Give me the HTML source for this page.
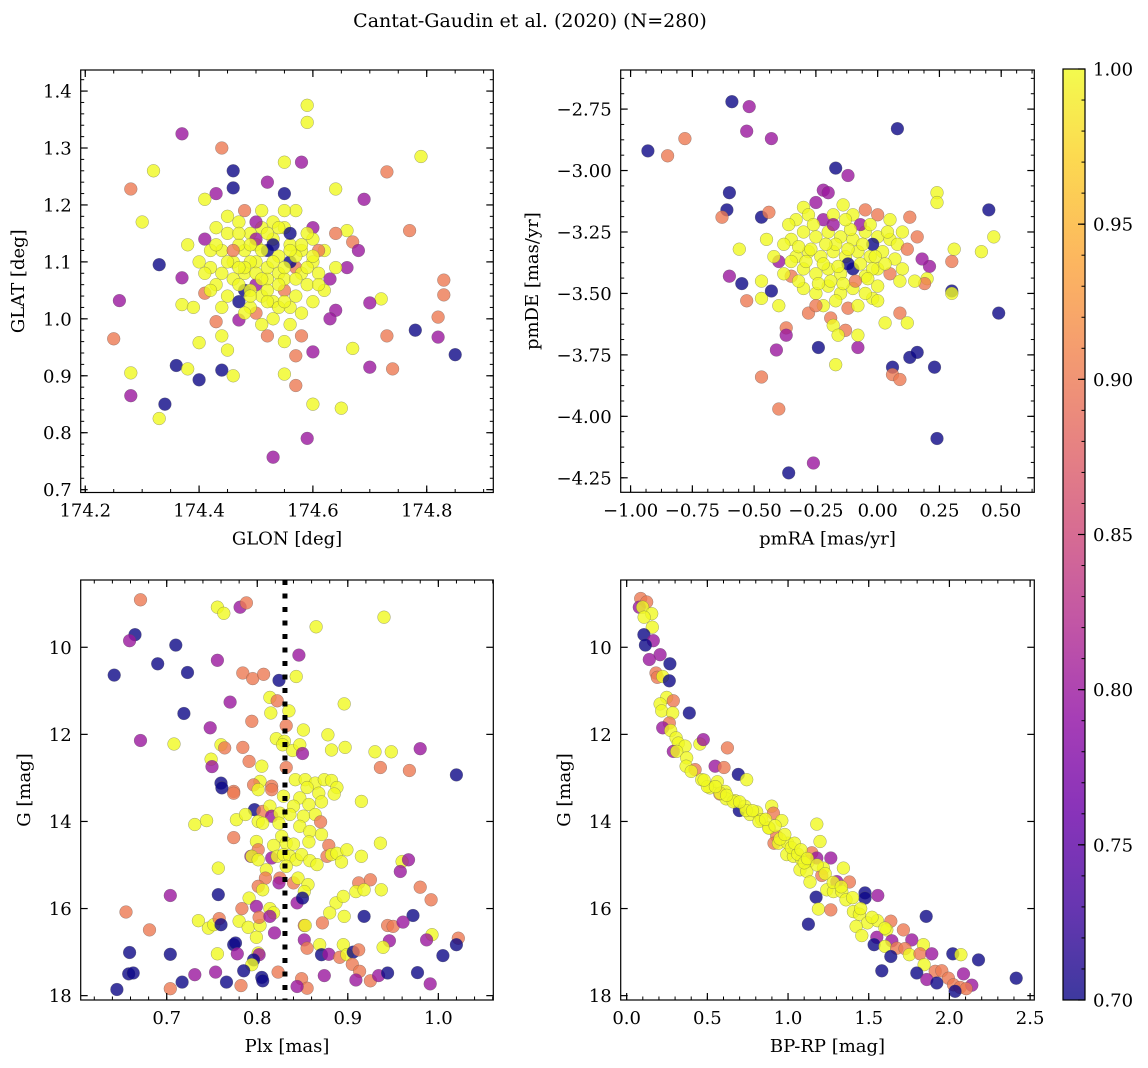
<!DOCTYPE html>
<html><head><meta charset="utf-8">
<style>
html,body{margin:0;padding:0;background:#fff;}
svg{display:block;font-family:"DejaVu Serif","Liberation Serif",serif;}
</style></head>
<body>
<svg id="fig" width="1148" height="1068" viewBox="0 0 1148 1068" xmlns="http://www.w3.org/2000/svg">
<text x="530" y="27" font-size="19" text-anchor="middle">Cantat-Gaudin et al. (2020) (N=280)</text>
</svg>
<script>
// ---- Panel 1: GLON vs GLAT ----
const glon = [174.37,174.44,174.59,174.59,174.79,174.32,174.28,174.46,174.55,174.58,
174.73,174.52,174.46,174.43,174.55,174.41,174.69,174.64,174.30,174.77,
174.66,174.33,174.38,174.26,174.25,174.28,174.28,174.36,174.38,174.34,
174.33,174.40,174.44,174.40,174.45,174.46,174.53,174.59,174.60,174.65,
174.57,174.55,174.57,174.60,174.67,174.70,174.74,174.73,174.78,174.85,
174.82,174.82,174.83,174.83,174.72,174.70,174.64,174.63,174.37,174.37,
174.39,174.41,174.43,174.47,174.44,174.48,174.50,174.52,174.55,174.58,
174.62,174.66,174.67,174.64,174.68,174.60,174.57,174.51,174.48,174.45,
174.41,174.43,174.47,174.49,174.50,174.52,174.53,174.55,174.56,174.58,
174.60,174.57,174.54,174.52,174.50,174.48,174.46,174.44,174.42,174.41,
174.43,174.45,174.47,174.49,174.51,174.53,174.55,174.57,174.59,174.61,
174.63,174.62,174.60,174.48,174.50,174.52,174.54,174.56,174.58,174.46,
174.44,174.53,174.51,174.56,174.60,174.64,174.45,174.47,174.53,174.55,
174.51,174.49,174.55,174.57,174.59,174.42,174.40,174.47,174.49,174.52,
174.54,174.58,174.56,174.50,174.61,
174.50,174.53,174.51,174.55,174.48,174.46,174.54,174.52,174.49,174.57,
174.59,174.47,174.53,174.56,174.51,174.44,174.42,174.58,174.61,174.45,
174.50,174.54,174.48,174.56,174.43,174.60,174.52,174.47,174.55,174.49];
const glat = [1.325,1.30,1.375,1.345,1.285,1.26,1.228,1.26,1.275,1.275,
1.258,1.24,1.23,1.22,1.22,1.21,1.21,1.228,1.17,1.155,
1.155,1.095,1.13,1.032,0.965,0.905,0.865,0.918,0.912,0.85,
0.825,0.893,0.91,0.958,0.945,0.90,0.757,0.79,0.85,0.843,
0.883,0.903,0.935,0.942,0.948,0.915,0.912,0.97,0.98,0.937,
0.968,1.003,1.042,1.068,1.035,1.028,1.015,1.0,1.072,1.025,
1.02,1.045,0.995,0.998,0.97,1.05,1.01,0.97,0.96,0.97,
1.05,1.09,1.135,1.15,1.12,1.16,1.19,1.19,1.19,1.18,
1.14,1.16,1.17,1.15,1.13,1.12,1.14,1.16,1.13,1.12,
1.10,1.09,1.08,1.07,1.06,1.08,1.10,1.12,1.09,1.08,
1.06,1.04,1.03,1.02,1.04,1.03,1.05,1.04,1.06,1.08,
1.07,1.12,1.14,1.12,1.10,1.09,1.11,1.10,1.08,1.07,
1.02,1.00,0.99,1.02,1.03,1.09,1.15,1.13,1.17,1.19,
1.16,1.10,1.07,1.11,1.15,1.12,1.10,1.06,1.05,1.05,
1.02,1.01,1.15,1.17,1.12,
1.08,1.10,1.12,1.09,1.09,1.12,1.06,1.03,1.04,1.07,
1.09,1.15,1.13,1.12,1.07,1.08,1.05,1.13,1.06,1.10,
1.14,1.16,1.01,0.99,1.13,1.11,1.15,1.09,1.03,1.13];
const prob1 = [0.80,0.90,1,1,1,1,0.9,0.7,1,0.8,
0.9,0.8,0.7,0.8,0.7,1,0.8,1,1,0.9,
1,0.7,1,0.8,0.9,1,0.8,0.7,1,0.7,
1,0.7,0.7,1,1,1,0.8,0.8,1,1,
0.9,1,0.9,0.8,1,0.8,0.9,0.9,0.7,0.7,
0.8,0.9,0.9,0.9,1,0.8,0.8,0.8,0.8,1,
1,0.9,0.9,0.8,1,0.7,0.9,0.9,1,0.9,
1,0.8,0.9,0.9,0.8,0.8,1,1,0.9,1,
0.8,1,1,1,1,0.7,1,1,1,1,
1,0.9,1,1,0.8,1,1,1,1,1,
1,1,0.7,1,1,1,0.9,1,1,1,
0.8,1,1,1,1,1,1,0.7,1,1,
1,1,1,1,1,1,1,1,1,1,
1,1,1,1,1,1,1,1,1,1,
1,1,0.7,0.8,0.9,
1,1,1,1,1,0.9,1,1,1,1,
1,1,0.7,1,1,1,1,1,1,1,
0.8,1,1,1,1,1,1,1,1,1];

// ---- Panel 2: pmRA vs pmDE ----
const pmra = [-0.93,-0.85,-0.78,-0.59,-0.52,-0.53,-0.43,0.08,-0.17,-0.12,
-0.60,-0.61,-0.63,-0.56,-0.47,-0.44,-0.55,-0.60,-0.53,-0.47,
-0.43,-0.40,-0.37,-0.37,-0.41,-0.47,-0.40,-0.36,-0.26,-0.24,
-0.17,-0.08,0.06,0.06,0.09,0.13,0.16,0.23,0.24,0.49,
0.45,0.47,0.42,0.31,0.30,0.24,0.24,0.30,0.30,0.21,
0.20,0.19,0.18,0.13,0.16,0.09,0.12,-0.02,0.00,0.03,
-0.13,-0.19,-0.18,-0.08,-0.16,
-0.30,-0.28,-0.22,-0.22,-0.20,-0.25,-0.14,-0.10,-0.05,0.00,
0.05,0.10,0.05,0.00,-0.05,-0.10,-0.15,-0.20,-0.25,-0.30,
-0.35,-0.38,-0.33,-0.28,-0.23,-0.18,-0.13,-0.08,-0.03,0.02,
0.07,0.10,0.05,0.00,-0.05,-0.10,-0.15,-0.20,-0.25,-0.30,
-0.35,-0.30,-0.25,-0.20,-0.15,-0.10,-0.05,0.00,-0.22,-0.12,
-0.28,-0.32,-0.38,-0.42,-0.45,-0.33,-0.18,0.08,0.12,-0.07,
-0.02,-0.12,0.15,-0.40,-0.47,
-0.17,-0.12,-0.07,-0.22,-0.27,-0.32,-0.02,-0.09,-0.19,-0.24,
-0.14,-0.04,0.03,-0.29,-0.11,-0.18,-0.26,-0.03,0.04,-0.35,
-0.16,-0.21,-0.06,0.09,-0.25,-0.17,-0.08,-0.36,-0.13,-0.01];
const pmde = [-2.92,-2.94,-2.87,-2.72,-2.74,-2.84,-2.87,-2.83,-2.99,-3.02,
-3.09,-3.16,-3.19,-3.32,-3.19,-3.17,-3.46,-3.43,-3.53,-3.52,
-3.49,-3.37,-3.64,-3.67,-3.73,-3.84,-3.97,-4.23,-4.19,-3.72,
-3.79,-3.72,-3.80,-3.83,-3.85,-3.76,-3.74,-3.80,-4.09,-3.58,
-3.16,-3.27,-3.33,-3.32,-3.37,-3.09,-3.13,-3.49,-3.50,-3.39,
-3.44,-3.46,-3.36,-3.19,-3.27,-3.58,-3.62,-3.52,-3.53,-3.62,
-3.65,-3.60,-3.63,-3.67,-3.67,
-3.15,-3.18,-3.20,-3.08,-3.09,-3.13,-3.14,-3.18,-3.16,-3.18,
-3.20,-3.25,-3.28,-3.27,-3.25,-3.28,-3.27,-3.25,-3.27,-3.25,
-3.28,-3.30,-3.35,-3.33,-3.35,-3.33,-3.35,-3.33,-3.35,-3.33,
-3.36,-3.40,-3.42,-3.40,-3.43,-3.40,-3.42,-3.40,-3.42,-3.40,
-3.43,-3.48,-3.50,-3.47,-3.50,-3.48,-3.50,-3.47,-3.55,-3.56,
-3.58,-3.45,-3.42,-3.35,-3.28,-3.20,-3.18,-3.30,-3.32,-3.22,
-3.30,-3.38,-3.45,-3.55,-3.45,
-3.30,-3.32,-3.38,-3.38,-3.32,-3.31,-3.40,-3.45,-3.45,-3.46,
-3.46,-3.44,-3.38,-3.37,-3.24,-3.22,-3.22,-3.22,-3.25,-3.37,
-3.39,-3.30,-3.30,-3.45,-3.55,-3.53,-3.55,-3.22,-3.20,-3.35];
const prob2 = [0.7,0.9,0.9,0.7,0.8,0.8,0.8,0.7,0.7,0.8,
0.7,0.7,0.9,1,0.7,0.9,0.7,0.8,0.9,1,
0.7,0.8,0.9,0.8,0.8,0.9,0.9,0.7,0.8,0.7,
1,0.8,0.7,0.9,0.9,0.7,0.7,0.7,0.7,0.7,
0.7,1,1,1,0.9,1,1,0.7,1,0.8,
1,0.9,0.8,0.9,0.9,0.9,1,1,1,1,
0.9,0.9,1,1,1,
1,1,0.8,0.8,0.8,0.8,1,1,0.9,0.9,
1,1,1,1,1,1,1,1,1,1,
1,1,1,1,1,1,1,1,1,1,
1,1,0.9,1,1,0.7,1,1,1,1,
0.9,1,1,1,1,1,1,1,1,0.9,
0.9,1,1,1,1,1,1,1,0.9,0.8,
0.7,0.7,1,1,1,
1,1,1,1,1,1,1,0.9,1,1,
1,1,1,1,1,0.8,1,1,1,1,
1,1,1,1,0.9,1,1,1,1,1];

// ---- Panel 3: Plx vs G ----
const plx = [0.671,0.756,0.763,0.781,0.788,0.940,0.865,0.665,0.659,0.710,
0.690,0.642,0.723,0.756,0.846,0.784,0.795,0.807,0.824,0.843,
0.814,0.822,0.770,0.896,0.815,0.835,0.719,0.794,0.832,0.748,
0.851,0.878,0.671,0.708,0.760,0.764,0.784,0.821,0.830,0.828,
0.839,0.847,0.850,0.882,0.897,0.930,0.948,0.980,0.749,0.750,
0.791,0.805,0.832,0.936,0.968,1.020,0.760,0.803,0.816,0.842,
0.853,0.864,0.874,0.882,0.888,0.855,0.774,0.796,
0.761,0.774,0.801,0.816,0.829,0.847,0.868,0.885,0.871,0.915,
0.797,0.806,0.814,0.816,0.825,0.840,0.857,0.864,0.851,0.836,
0.847,0.858,0.871,0.731,0.744,0.777,0.787,0.801,0.806,0.824,
0.870,0.774,0.799,0.818,0.827,0.832,0.840,0.857,0.936,0.879,
0.801,0.793,0.794,0.801,0.816,0.822,0.829,0.836,0.843,0.849,
0.858,0.866,0.877,0.882,0.888,0.893,0.899,0.915,0.960,0.967,
0.958,0.757,0.810,0.832,0.825,0.809,0.801,0.824,0.840,0.845,
0.856,0.852,0.806,0.912,0.925,0.909,0.918,0.937,0.980,0.992,
0.704,0.757,0.791,0.799,0.783,0.814,0.818,0.844,0.850,0.887,
0.895,0.880,0.896,0.918,0.972,0.655,0.681,0.735,0.746,0.752,
0.758,0.760,0.780,0.790,0.803,0.802,0.814,0.799,0.819,0.852,
0.853,0.872,0.944,0.950,0.961,0.993,0.987,1.022,1.020,0.946,
0.939,0.774,0.776,0.778,0.756,0.801,0.802,0.796,0.794,0.852,
0.855,0.869,0.871,0.879,0.891,0.895,0.899,0.906,0.912,0.905,
0.913,0.659,0.704,0.658,0.663,0.731,0.754,0.717,0.766,0.785,
0.805,0.806,0.823,0.849,0.855,0.844,0.874,0.909,0.925,0.934,
0.944,0.977,0.991,1.005,0.645,0.704,0.782];
const gmag3 = [8.91,9.08,9.22,9.08,8.98,9.31,9.53,9.71,9.85,9.95,
10.38,10.64,10.58,10.30,10.18,10.59,10.72,10.62,10.76,10.67,
11.15,11.23,11.26,11.30,11.51,11.46,11.52,11.70,11.80,11.85,
11.90,12.01,12.14,12.22,12.24,12.31,12.30,12.10,12.16,12.24,
12.37,12.24,12.44,12.36,12.30,12.40,12.40,12.33,12.57,12.74,
12.62,12.73,12.76,12.76,12.83,12.93,13.12,13.08,13.19,13.04,
13.04,13.12,13.04,13.06,13.22,13.22,13.31,13.16,
13.23,13.35,13.27,13.27,13.42,13.46,13.35,13.37,13.55,13.54,
13.73,13.77,13.65,13.88,13.81,13.65,13.61,13.84,13.88,13.84,
14.11,14.23,14.30,14.07,13.98,13.96,13.84,14.00,14.04,14.04,
14.01,14.37,14.46,14.55,14.34,14.50,14.52,14.47,14.50,14.55,
14.65,14.80,14.80,14.88,14.84,14.80,14.76,14.80,14.88,14.76,
14.90,14.99,14.80,14.76,14.73,14.93,14.65,14.80,14.92,14.88,
15.15,15.07,15.11,15.03,15.30,15.30,15.49,15.41,15.41,15.30,
15.45,15.61,15.57,15.41,15.34,15.61,15.57,15.57,15.51,15.80,
15.70,15.68,15.76,15.95,16.00,16.00,16.10,15.87,15.76,15.87,
15.72,16.10,16.18,16.18,16.16,16.08,16.49,16.28,16.45,16.37,
16.23,16.37,16.29,16.43,16.39,16.20,16.18,16.66,16.56,16.39,
16.39,16.33,16.39,16.41,16.31,16.60,16.72,16.68,16.83,16.74,
16.89,16.83,16.79,17.04,17.04,17.02,17.06,17.18,17.29,16.72,
16.91,16.83,17.06,17.05,17.12,16.83,17.06,17.00,16.95,17.28,
17.44,17.01,17.05,17.50,17.48,17.52,17.46,17.69,17.69,17.43,
17.58,17.66,17.46,17.61,17.83,17.79,17.54,17.64,17.66,17.54,
17.48,17.47,17.73,17.08,17.86,17.84,17.77];
const prob3 = [0.9,1,1,0.8,0.9,1,1,0.7,0.8,0.7,
0.7,0.7,0.7,0.8,0.8,0.9,0.9,0.9,0.7,1,
1,0.9,0.8,1,1,1,0.7,0.9,0.9,0.8,
1,1,0.8,1,1,0.9,0.9,1,1,1,
1,1,0.8,1,1,1,1,0.8,1,0.8,
0.9,1,0.9,0.9,0.9,0.7,0.7,1,0.9,1,
1,1,1,1,1,1,0.9,0.9,
0.7,0.9,1,0.9,1,1,1,1,1,1,
0.7,0.9,1,0.8,1,1,1,1,1,1,
1,1,1,1,1,1,1,1,1,1,
0.9,0.9,1,1,1,1,1,1,1,0.9,
0.9,0.8,1,1,0.8,1,1,1,1,1,
1,1,0.9,1,1,1,1,1,1,0.8,
0.8,1,1,1,0.9,0.9,0.9,0.8,0.9,1,
1,1,1,0.9,0.9,1,1,1,0.9,0.9,
0.8,0.7,1,0.8,0.9,1,1,0.8,0.7,1,
1,1,1,0.7,0.7,0.9,0.9,1,1,1,
0.9,0.7,1,1,1,0.9,0.8,1,0.8,0.9,
1,0.9,0.9,0.9,0.8,1,0.8,0.9,0.7,0.8,
1,0.7,0.7,0.8,1,1,0.8,0.7,1,0.8,
0.9,1,0.7,0.8,0.9,1,1,0.7,0.9,0.9,
0.9,0.7,0.7,0.7,0.7,0.8,0.8,0.7,0.7,0.7,
0.7,0.7,0.9,0.9,0.9,0.8,0.8,0.8,0.9,0.8,
0.7,0.7,0.8,0.7,0.7,0.9,0.9];

// ---- Panel 4: BP-RP vs G ----
const bprp = [0.087,0.124,0.078,0.099,0.155,0.108,0.159,0.107,0.165,0.116,
0.207,0.140,0.268,0.182,0.190,0.223,0.264,0.248,0.289,0.207,
0.217,0.285,0.388,0.264,0.223,0.273,0.306,0.320,0.362,0.289,
0.310,0.454,0.475,0.624,0.372,0.368,0.424,0.548,0.603,0.692,
0.744,0.465,0.516,0.562,0.610,0.578,0.616,0.671,0.698,0.733,
0.764,0.806,0.837,0.899,0.909,0.961,0.884,0.930,0.913,0.940,
0.998,1.178,1.198,0.992,1.033,1.085,1.126,1.147,1.178,1.265,
1.074,1.116,1.219,1.343,1.209,1.136,1.302,1.380,1.240,1.281,
1.333,1.359,1.477,1.477,1.556,1.174,1.188,1.265,1.405,1.442,
1.492,1.422,1.126,1.856,1.554,1.637,1.612,1.715,1.457,1.550,
1.643,1.767,1.839,1.533,1.601,1.674,1.725,1.637,1.752,1.818,
1.891,2.021,2.071,2.180,1.843,1.581,1.798,1.912,1.953,1.994,
2.087,1.860,1.922,2.025,2.066,2.139,2.104,2.035,2.414,
0.50,0.58,0.66,0.74,0.82,0.88,0.95,1.02,1.06,1.10,
0.40,0.48,0.55,0.62,0.70,0.78,0.86,0.92,0.98,1.04,
1.08,1.12,1.18,1.23,1.28,1.33,1.40,1.45,1.52,1.60];
const gmag4 = [8.88,8.96,9.08,9.08,9.23,9.31,9.54,9.71,9.85,9.95,
10.17,10.28,10.38,10.59,10.69,10.67,10.77,11.15,11.23,11.30,
11.46,11.51,11.51,11.74,11.85,11.91,12.08,12.20,12.27,12.39,
12.39,12.22,12.12,12.31,12.54,12.73,12.81,12.73,12.76,12.92,
13.04,13.04,13.23,13.09,13.31,13.37,13.48,13.52,13.75,13.65,
13.84,13.78,13.96,13.65,13.81,13.98,14.15,14.34,14.50,14.50,
14.50,14.06,14.46,14.76,14.80,14.88,14.92,14.72,14.84,14.84,
15.11,15.15,15.07,15.07,15.24,15.39,15.38,15.39,15.57,15.61,
15.61,15.80,15.64,15.76,15.70,15.74,16.01,16.03,16.07,16.13,
16.33,16.41,16.36,16.18,16.28,16.29,16.49,16.49,16.62,16.66,
16.74,16.72,16.83,16.83,16.87,16.91,16.92,17.10,17.06,17.04,
17.04,17.04,17.06,17.18,17.29,17.43,17.48,17.44,17.43,17.60,
17.50,17.63,17.71,17.75,17.81,17.76,17.84,17.90,17.60,
13.20,13.35,13.55,13.75,14.00,14.15,14.40,14.60,14.75,14.95,
12.85,13.05,13.20,13.40,13.55,13.75,13.95,14.10,14.30,14.50,
14.65,14.85,15.00,15.20,15.40,15.50,15.75,16.00,16.20,16.45];
const prob4 = [0.9,0.9,0.8,1,1,1,1,0.7,0.8,0.7,
0.8,0.8,0.7,0.9,0.9,1,0.7,1,0.9,1,
1,1,0.7,0.9,0.8,1,1,1,1,0.8,
1,1,0.8,0.9,1,1,0.9,0.8,0.9,0.7,
1,1,1,1,1,0.9,1,1,0.7,1,
1,1,1,1,0.9,1,1,0.9,0.9,1,
1,1,1,1,1,1,1,0.9,0.8,0.8,
1,1,1,1,0.9,1,0.8,0.9,1,1,
1,1,0.7,0.7,0.8,0.7,1,0.9,1,1,
1,1,0.7,0.7,1,0.9,1,0.9,1,0.8,
0.8,0.8,1,0.7,1,0.9,0.9,0.7,1,0.9,
0.8,0.7,1,0.7,1,0.7,0.7,0.9,0.9,0.9,
0.8,0.8,0.7,0.9,0.9,0.8,0.9,0.7,0.7,
1,1,1,1,1,1,1,1,1,1,
1,1,1,1,1,1,1,1,1,1,
1,1,1,1,1,1,1,1,1,1];

// tick values
const p1xTicks=[174.2,174.4,174.6,174.8], p1yTicks=[0.7,0.8,0.9,1.0,1.1,1.2,1.3,1.4];
const p2xTicks=[-1.0,-0.75,-0.5,-0.25,0,0.25,0.5], p2yTicks=[-4.25,-4.0,-3.75,-3.5,-3.25,-3.0,-2.75];
const p3xTicks=[0.7,0.8,0.9,1.0], gTicks=[10,12,14,16,18];
const p4xTicks=[0.0,0.5,1.0,1.5,2.0,2.5];
const cbTicks=[0.70,0.75,0.80,0.85,0.90,0.95,1.00];
const plxLine=0.8306;

const NS="http://www.w3.org/2000/svg";
const svg=document.getElementById('fig');
function mk(tag,attrs,parent){const e=document.createElementNS(NS,tag);for(const k in attrs)e.setAttribute(k,attrs[k]);(parent||svg).appendChild(e);return e;}

const plasma=[[13,8,135],[65,4,157],[106,0,168],[143,13,164],[177,42,144],[204,71,120],[225,100,98],[242,132,75],[252,166,54],[252,206,37],[240,249,33]];
function cmap(v){let t=(v-0.7)/0.3;t=Math.max(0,Math.min(1,t));const f=t*10,i=Math.min(9,Math.floor(f)),r=f-i;const a=plasma[i],b=plasma[i+1];
return `rgb(${Math.round(a[0]+(b[0]-a[0])*r)},${Math.round(a[1]+(b[1]-a[1])*r)},${Math.round(a[2]+(b[2]-a[2])*r)})`;}
function fmt(v,d){const s=v.toFixed(d);return s.startsWith('-')?'\u2212'+s.slice(1):s;}
const FS=18;

function panel(o){
  const g=mk('g',{});
  
  
  const sx=v=>o.L+(v-o.x0)/(o.x1-o.x0)*(o.R-o.L);
  const sy=v=>o.B-(v-o.y0)/(o.y1-o.y0)*(o.B-o.T);
  const clipId='clip'+o.name;
  const cp=mk('clipPath',{id:clipId},g);mk('rect',{x:o.L,y:o.T,width:o.R-o.L,height:o.B-o.T},cp);
  const pts=mk('g',{'clip-path':`url(#${clipId})`},g);
  
  
  for(let i=0;i<o.xs.length;i++){
    const c=mk('circle',{cx:sx(o.xs[i]).toFixed(1),cy:sy(o.ys[i]).toFixed(1),r:6.4,fill:cmap(o.cs[i]),'fill-opacity':0.8,stroke:'#555','stroke-opacity':0.55,'stroke-width':0.5},pts);
    
    
  }
  if(o.vline!==undefined){
    const l=mk('line',{x1:sx(o.vline),x2:sx(o.vline),y1:o.T,y2:o.B,stroke:'#000','stroke-width':5,'stroke-dasharray':'5,8.5'},g);
    
    
  }
  mk('rect',{x:o.L,y:o.T,width:o.R-o.L,height:o.B-o.T,fill:'none',stroke:'#000','stroke-width':1.2},g);
  const eps=1e-9;
  for(let v=Math.ceil(o.x0/o.xm-eps)*o.xm;v<=o.x1+eps;v+=o.xm){const X=sx(v);
    mk('line',{x1:X,x2:X,y1:o.B,y2:o.B-3.5,stroke:'#000','stroke-width':1},g);mk('line',{x1:X,x2:X,y1:o.T,y2:o.T+3.5,stroke:'#000','stroke-width':1},g);}
  for(let v=Math.ceil(o.y0/o.ym-eps)*o.ym;v<=o.y1+eps;v+=o.ym){const Y=sy(v);
    mk('line',{x1:o.L,x2:o.L+3.5,y1:Y,y2:Y,stroke:'#000','stroke-width':1},g);mk('line',{x1:o.R,x2:o.R-3.5,y1:Y,y2:Y,stroke:'#000','stroke-width':1},g);}
  o.xt.forEach(v=>{const X=sx(v);
    mk('line',{x1:X,x2:X,y1:o.B,y2:o.B-7,stroke:'#000','stroke-width':1.2},g);mk('line',{x1:X,x2:X,y1:o.T,y2:o.T+7,stroke:'#000','stroke-width':1.2},g);
    const t=mk('text',{x:X,y:o.B+24,'font-size':FS,'text-anchor':'middle'},g);t.textContent=fmt(v,o.xd);
    
    });
  o.yt.forEach(v=>{const Y=sy(v);
    mk('line',{x1:o.L,x2:o.L+7,y1:Y,y2:Y,stroke:'#000','stroke-width':1.2},g);mk('line',{x1:o.R,x2:o.R-7,y1:Y,y2:Y,stroke:'#000','stroke-width':1.2},g);
    const t=mk('text',{x:o.L-9,y:Y+6.5,'font-size':FS,'text-anchor':'end'},g);t.textContent=fmt(v,o.yd);
    
    });
  const xl=mk('text',{x:(o.L+o.R)/2,y:o.B+52,'font-size':FS,'text-anchor':'middle'},g);xl.textContent=o.xlab;
  
  
  const yl=mk('text',{x:0,y:0,'font-size':FS,'text-anchor':'middle',transform:`translate(${o.ylx},${(o.T+o.B)/2}) rotate(-90)`},g);yl.textContent=o.ylab;
  
  
}

panel({name:'panel-glon-glat',L:80.7,R:493.3,T:70,B:492.5,x0:174.192,x1:174.917,y0:0.695,y1:1.437,xs:glon,ys:glat,cs:prob1,xt:p1xTicks,yt:p1yTicks,xm:0.05,ym:0.02,xd:1,yd:1,xlab:'GLON [deg]',ylab:'GLAT [deg]',ylx:24});
panel({name:'panel-pm',L:620.7,R:1034.3,T:70,B:492.3,x0:-1.04,x1:0.634,y0:-4.309,y1:-2.591,xs:pmra,ys:pmde,cs:prob2,xt:p2xTicks,yt:p2yTicks,xm:0.0625,ym:0.0625,xd:2,yd:2,xlab:'pmRA [mas/yr]',ylab:'pmDE [mas/yr]',ylx:538});
panel({name:'panel-plx-g',L:80.7,R:493.3,T:580,B:1000,x0:0.605,x1:1.0607,y0:18.1,y1:8.455,xs:plx,ys:gmag3,cs:prob3,xt:p3xTicks,yt:gTicks,xm:0.02,ym:-0.5,xd:1,yd:0,xlab:'Plx [mas]',ylab:'G [mag]',ylx:30,vline:plxLine});
panel({name:'panel-cmd',L:620.7,R:1034.3,T:580,B:1000,x0:-0.037,x1:2.526,y0:18.1,y1:8.455,xs:bprp,ys:gmag4,cs:prob4,xt:p4xTicks,yt:gTicks,xm:0.1,ym:-0.5,xd:1,yd:0,xlab:'BP-RP [mag]',ylab:'G [mag]',ylx:570});

// colorbar
const cb=mk('g',{});


const defs=mk('defs',{},cb);const lg=mk('linearGradient',{id:'cbg',x1:0,y1:1,x2:0,y2:0},defs);
plasma.forEach((c,i)=>mk('stop',{offset:i/10,'stop-color':`rgb(${c})`,'stop-opacity':0.8},lg));
const cT=69,cB=1000,cL=1063,cR=1085;
mk('rect',{x:cL,y:cT,width:cR-cL,height:cB-cT,fill:'url(#cbg)',stroke:'#000','stroke-width':1.2},cb);
const cy=v=>cB-(v-0.7)/0.3*(cB-cT);
for(let v=0.70;v<=1.0001;v+=0.01){mk('line',{x1:cR,x2:cR-3.5,y1:cy(v),y2:cy(v),stroke:'#000','stroke-width':1},cb);}
cbTicks.forEach(v=>{mk('line',{x1:cR,x2:cR-7,y1:cy(v),y2:cy(v),stroke:'#000','stroke-width':1.2},cb);
  const t=mk('text',{x:cR+8,y:cy(v)+6.5,'font-size':FS},cb);t.textContent=v.toFixed(2);
  
  });
</script>
</body></html>
